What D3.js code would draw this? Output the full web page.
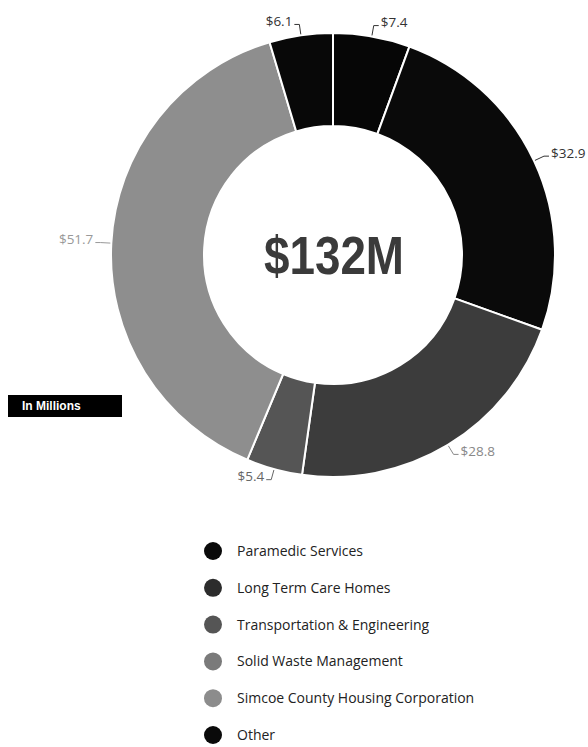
<!DOCTYPE html>
<html>
<head>
<meta charset="utf-8">
<script src="https://cdn.jsdelivr.net/npm/d3@7"></script>
<style>
  body { margin: 0; background: #fff; }
  svg { display: block; }
</style>
</head>
<body>
<div id="chart"></div>
<script>
// data (millions)
const categories = ["Paramedic Services", "Long Term Care Homes", "Transportation & Engineering",
                    "Solid Waste Management", "Simcoe County Housing Corporation", "Other"];
const values = [7.4, 32.9, 28.8, 5.4, 51.7, 6.1];
const sliceColors = ["#060606", "#0a0a0a", "#3c3c3c", "#555555", "#8e8e8e", "#080808"];
const legendColors = ["#0a0a0a", "#2c2c2c", "#555555", "#7a7a7a", "#8c8c8c", "#0a0a0a"];
const labelColors = ["#333", "#333", "#888", "#666", "#999", "#333"];
const totalLabel = "$132M";
const unitNote = "In Millions";

const width = 588, height = 747;
const cx = 333, cy = 255, outerR = 222, innerR = 129;

const svg = d3.select("#chart").append("svg")
    .attr("width", width)
    .attr("height", height);

const data = categories.map((name, i) => ({ name, value: values[i], i }));

const pie = d3.pie().sort(null).value(d => d.value);
const arc = d3.arc().innerRadius(innerR).outerRadius(outerR);
const arcs = pie(data);

const g = svg.append("g").attr("transform", `translate(${cx},${cy})`);

g.selectAll("path.slice")
    .data(arcs)
    .enter().append("path")
        .attr("class", "slice")
        .attr("d", arc)
        .attr("fill", d => sliceColors[d.data.i])
        .attr("stroke", "#fff")
        .attr("stroke-width", 2);

// labels with leader lines
const pt = (a, r) => [Math.sin(a) * r, -Math.cos(a) * r];

arcs.forEach(d => {
    const mid = (d.startAngle + d.endAngle) / 2;
    const right = Math.sin(mid) >= 0;
    const p0 = pt(mid, outerR + 1);
    const p1 = pt(mid, outerR + 11);
    const p2 = [p1[0] + (right ? 5 : -5), p1[1]];
    g.append("polyline")
        .attr("points", [p0, p1, p2].map(p => p.join(",")).join(" "))
        .attr("fill", "none")
        .attr("stroke", labelColors[d.data.i])
        .attr("stroke-width", 1);
    g.append("text")
        .attr("x", p2[0] + (right ? 2 : -2))
        .attr("y", p2[1])
        .attr("dy", "0.1em")
        .attr("text-anchor", right ? "start" : "end")
        .style("font-family", "'Open Sans', sans-serif")
        .style("font-size", "13.5px")
        .style("fill", labelColors[d.data.i])
        .text(`$${d.data.value}`);
});

// centre total
g.append("text")
    .attr("x", -69)
    .attr("dy", "0.36em")
    .attr("textLength", 140)
    .attr("lengthAdjust", "spacingAndGlyphs")
    .style("font-family", "'Liberation Sans', Arial, sans-serif")
    .style("font-weight", "bold")
    .style("font-size", "54px")
    .style("fill", "#3a3a3a")
    .text(totalLabel);

// unit tag
svg.append("rect")
    .attr("x", 8).attr("y", 395)
    .attr("width", 114).attr("height", 22)
    .attr("fill", "#000");
svg.append("text")
    .attr("x", 22).attr("y", 410)
    .style("font-family", "'Liberation Sans', Arial, sans-serif")
    .style("font-weight", "bold")
    .style("font-size", "12px")
    .style("fill", "#fff")
    .text(unitNote);

// legend
const legendY = d3.scalePoint()
    .domain(categories)
    .range([551, 735]);

const legend = svg.selectAll("g.legend")
    .data(data)
    .enter().append("g")
        .attr("class", "legend")
        .attr("transform", d => `translate(213, ${legendY(d.name)})`);

legend.append("circle")
    .attr("r", 9)
    .attr("fill", d => legendColors[d.i]);

legend.append("text")
    .attr("x", 24)
    .attr("dy", "0.35em")
    .style("font-family", "'Open Sans', sans-serif")
    .style("font-size", "14px")
    .style("fill", "#222")
    .text(d => d.name);
</script>
</body>
</html>
